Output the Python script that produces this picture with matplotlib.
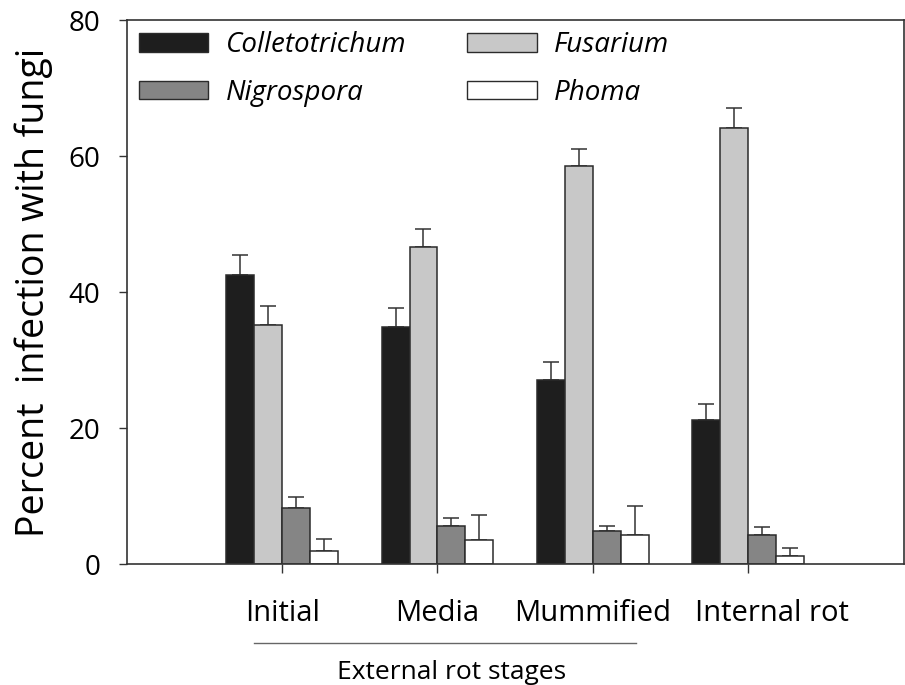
import numpy as np
import matplotlib.pyplot as plt
from matplotlib.patches import Patch
from matplotlib.transforms import ScaledTranslation

plt.rcParams['font.family'] = ['Open Sans', 'DejaVu Sans']

# Data
stages = ['Initial', 'Media', 'Mummified', 'Internal rot']
fungi = ['Colletotrichum', 'Fusarium', 'Nigrospora', 'Phoma']
colletotrichum = [42.5, 34.9, 27.1, 21.2]
fusarium = [35.2, 46.6, 58.5, 64.1]
nigrospora = [8.3, 5.6, 4.8, 4.2]
phoma = [1.9, 3.5, 4.3, 1.2]
colletotrichum_err = [3.0, 2.7, 2.6, 2.4]
fusarium_err = [2.7, 2.7, 2.6, 3.0]
nigrospora_err = [1.6, 1.1, 0.8, 1.3]
phoma_err = [1.8, 3.7, 4.2, 1.1]

series = [colletotrichum, fusarium, nigrospora, phoma]
errors = [colletotrichum_err, fusarium_err, nigrospora_err, phoma_err]
colors = ['#1e1e1e', '#c8c8c8', '#858585', '#ffffff']
edge = '#2b2b2b'

fig = plt.figure(figsize=(9.05, 6.85), dpi=100)
ax = fig.add_axes([0.14, 0.1766, 0.8585, 0.7942])

x = np.arange(1, len(stages) + 1)
width = 0.18
offsets = [-1.5, -0.5, 0.5, 1.5]
for vals, errs, col, off in zip(series, errors, colors, offsets):
    ax.bar(x + off * width, vals, width, color=col, edgecolor=edge,
           linewidth=1.1, zorder=2)
    ax.errorbar(x + off * width, vals, yerr=[np.zeros(len(errs)), errs],
                fmt='none', ecolor='#333333', elinewidth=1.1, capsize=6,
                capthick=1.1, zorder=1)

ax.set_xlim(0, 5)
ax.set_ylim(0, 80)
ax.set_yticks([0, 20, 40, 60, 80])
ax.set_xticks(x)
ax.set_xticklabels(stages, fontsize=21)
ax.tick_params(axis='y', labelsize=20, direction='out', length=6,
               width=1.0, color='#333333', pad=13)
ax.tick_params(axis='x', direction='out', length=6.5, width=1.0,
               color='#333333', pad=19)
for s in ax.spines.values():
    s.set_color('#333333')
    s.set_linewidth(1.2)

# last label sits a bit right of its tick in the original
last = ax.get_xticklabels()[-1]
last.set_transform(last.get_transform() + ScaledTranslation(24 / 100, 0, fig.dpi_scale_trans))

ax.set_ylabel('Percent  infection with fungi', fontsize=27, labelpad=11)

# bracket line and group label under the first three stages
ax.plot([0.82, 3.28], [-0.145, -0.145], color='#666666', linewidth=1.0,
        transform=ax.get_xaxis_transform(), clip_on=False)
ax.text(2.09, -0.212, 'External rot stages', fontsize=19, ha='center',
        va='baseline', transform=ax.get_xaxis_transform())

handles = [Patch(facecolor=c, edgecolor=edge, linewidth=1.0) for c in colors]
# order: Colletotrichum, Nigrospora in col 1; Fusarium, Phoma in col 2
order = [0, 2, 1, 3]
leg = ax.legend([handles[i] for i in order], [fungi[i] for i in order],
                ncol=2, loc='upper left', bbox_to_anchor=(0.0153, 0.979),
                frameon=False, handlelength=2.5,
                handleheight=0.65, handletextpad=0.63, columnspacing=2.2,
                labelspacing=0.7, borderpad=0, borderaxespad=0,
                prop={'style': 'italic', 'size': 20})

fig.savefig('out.png', dpi=100)
